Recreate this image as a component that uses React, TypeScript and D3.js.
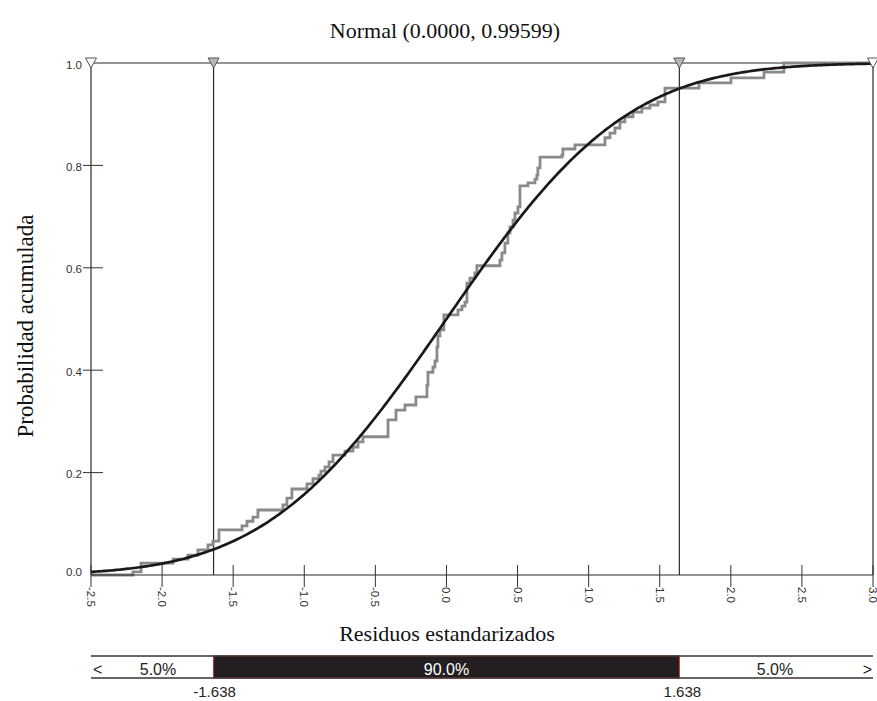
import React from "react";
import * as d3 from "d3";

const title = "Normal (0.0000, 0.99599)";
const xLabel = "Residuos estandarizados";
const yLabel = "Probabilidad acumulada";
const mu = 0.0;
const sigma = 0.99599;
const xTicks = [-2.5, -2.0, -1.5, -1.0, -0.5, 0.0, 0.5, 1.0, 1.5, 2.0, 2.5, 3.0];
const yTicks = [0.0, 0.2, 0.4, 0.6, 0.8, 1.0];
const cutLow = -1.638;
const cutHigh = 1.638;
const bandLabels = ["5.0%", "90.0%", "5.0%"];

// empirical CDF: jump locations and level after each jump
const stepX = [-2.205, -2.148, -1.923, -1.818, -1.748, -1.677, -1.642, -1.6, -1.438, -1.403,
  -1.361, -1.326, -1.15, -1.122, -1.087, -0.981, -0.939, -0.897, -0.883, -0.854,
  -0.826, -0.798, -0.714, -0.658, -0.622, -0.587, -0.411, -0.355, -0.292, -0.215,
  -0.137, -0.13, -0.095, -0.081, -0.067, -0.06, -0.046, -0.018, 0.081, 0.109,
  0.13, 0.144, 0.165, 0.2, 0.214, 0.376, 0.39, 0.411, 0.432, 0.447,
  0.468, 0.482, 0.503, 0.517, 0.573, 0.622, 0.636, 0.643, 0.658, 0.812,
  0.819, 0.904, 1.115, 1.15, 1.185, 1.22, 1.255, 1.312, 1.375, 1.431,
  1.487, 1.537, 1.776, 2.001, 2.233, 2.373];
const stepP = [0.006, 0.023, 0.031, 0.039, 0.049, 0.059, 0.066, 0.088, 0.096, 0.105,
  0.113, 0.127, 0.137, 0.15, 0.168, 0.178, 0.188, 0.195, 0.203, 0.211,
  0.221, 0.234, 0.242, 0.25, 0.26, 0.27, 0.303, 0.322, 0.332, 0.348,
  0.371, 0.396, 0.406, 0.418, 0.445, 0.467, 0.479, 0.508, 0.518, 0.525,
  0.533, 0.57, 0.58, 0.59, 0.604, 0.615, 0.629, 0.648, 0.668, 0.68,
  0.693, 0.707, 0.719, 0.76, 0.766, 0.773, 0.781, 0.795, 0.816, 0.82,
  0.832, 0.84, 0.854, 0.863, 0.873, 0.885, 0.895, 0.904, 0.912, 0.918,
  0.924, 0.951, 0.961, 0.971, 0.982, 1.0];

function erf(x: number) {
  const s = x < 0 ? -1 : 1;
  x = Math.abs(x);
  const t = 1 / (1 + 0.3275911 * x);
  const y = 1 - (((((1.061405429 * t - 1.453152027) * t) + 1.421413741) * t - 0.284496736) * t + 0.254829592) * t * Math.exp(-x * x);
  return s * y;
}
const normCdf = (x: number) => 0.5 * (1 + erf((x - mu) / (sigma * Math.SQRT2)));

const SANS = "'Liberation Sans', Arial, sans-serif";
const SERIF = "'Liberation Serif', 'Times New Roman', serif";

export default function App() {
  const x = d3.scaleLinear().domain([-2.5, 3.0]).range([91, 873]);
  const y = d3.scaleLinear().domain([0, 1]).range([575, 63]);
  const [x0, x1] = x.range();
  const [yb, yt] = y.range();

  const ecdfPts: [number, number][] = [[-2.5, 0], ...stepX.map((v, i) => [v, stepP[i]] as [number, number]), [3.0, 1.0]];
  const stepLine = d3.line<[number, number]>().x(d => x(d[0])).y(d => y(d[1])).curve(d3.curveStepAfter);
  const curvePts = d3.range(0, 401).map(i => {
    const v = -2.5 + (5.5 * i) / 400;
    return [v, normCdf(v)] as [number, number];
  });
  const curveLine = d3.line<[number, number]>().x(d => x(d[0])).y(d => y(d[1]));

  const verticals = [
    { v: -2.5, fill: "#ffffff" },
    { v: cutLow, fill: "#b8b8b8" },
    { v: cutHigh, fill: "#b8b8b8" },
    { v: 3.0, fill: "#ffffff" },
  ];

  const barTop = 656;
  const barBot = 678;

  return (
    <svg width={877} height={701} style={{ position: "absolute", left: 0, top: 0, display: "block", background: "#fff" }}>
      <text x={445} y={38} textAnchor="middle" fontFamily={SERIF} fontSize={22} fill="#111">{title}</text>

      {/* vertical reference lines */}
      {verticals.map((d, i) => (
        <line key={"v" + i} x1={x(d.v)} x2={x(d.v)} y1={yt} y2={yb} stroke="#2a2a2a" strokeWidth={1.2} />
      ))}
      <line x1={x0} x2={x1} y1={yt} y2={yt} stroke="#2a2a2a" strokeWidth={1.2} />

      {/* ECDF */}
      <path d={stepLine(ecdfPts) || ""} fill="none" stroke="#8a8a8a" strokeWidth={2.8} />
      {/* normal CDF */}
      <path d={curveLine(curvePts) || ""} fill="none" stroke="#1c1718" strokeWidth={2.7} />

      {/* x axis */}
      <line x1={x0} x2={x1} y1={yb} y2={yb} stroke="#2a2a2a" strokeWidth={1.2} />
      {xTicks.map((t, i) => (
        <g key={"xt" + i}>
          <line x1={x(t)} x2={x(t)} y1={yb - 10} y2={yb + 12} stroke="#333" strokeWidth={1} />
          <text transform={`translate(${x(t)},${yb + 12}) rotate(90)`} textAnchor="start" dominantBaseline="central" fontFamily={SANS} fontSize={11.5} fill="#333">{t.toFixed(1)}</text>
        </g>
      ))}
      {/* y axis ticks */}
      {yTicks.map((t, i) => (
        <g key={"yt" + i}>
          {t > 0 && t < 1 && <line x1={x0 - 8} x2={x0 + 12} y1={y(t)} y2={y(t)} stroke="#333" strokeWidth={1} />}
          <text x={x0 - 9} y={y(t) + (t === 0 ? -3 : 1.5)} textAnchor="end" dominantBaseline="central" fontFamily={SANS} fontSize={11.5} fill="#333">{t.toFixed(1)}</text>
        </g>
      ))}

      {/* triangles */}
      {verticals.map((d, i) => {
        const cx = x(d.v);
        return <path key={"tr" + i} d={`M${cx - 5.5},${yt - 5} L${cx + 5.5},${yt - 5} L${cx},${yt + 5} Z`} fill={d.fill} stroke="#555" strokeWidth={1} />;
      })}

      <text transform={`translate(25,326) rotate(-90)`} textAnchor="middle" dominantBaseline="central" fontFamily={SERIF} fontSize={23} fill="#111">{yLabel}</text>
      <text x={447} y={641} textAnchor="middle" fontFamily={SERIF} fontSize={22} fill="#111">{xLabel}</text>

      {/* bottom probability bar */}
      <rect x={x(cutLow)} y={barTop} width={x(cutHigh) - x(cutLow)} height={barBot - barTop} fill="#231f20" stroke="#d42a2a" strokeWidth={1} />
      <line x1={x0} x2={x1} y1={barTop} y2={barTop} stroke="#333" strokeWidth={1.5} />
      <line x1={x0} x2={x1} y1={barBot} y2={barBot} stroke="#333" strokeWidth={1.5} />
      <text x={x0 + 2} y={675} fontFamily={SANS} fontSize={16} fill="#222">{"<"}</text>
      <text x={x1 - 1} y={675} textAnchor="end" fontFamily={SANS} fontSize={16} fill="#222">{">"}</text>
      <text x={158} y={675} textAnchor="middle" fontFamily={SANS} fontSize={16} fill="#222">{bandLabels[0]}</text>
      <text x={(x(cutLow) + x(cutHigh)) / 2} y={675} textAnchor="middle" fontFamily={SANS} fontSize={16} fill="#fff">{bandLabels[1]}</text>
      <text x={775} y={675} textAnchor="middle" fontFamily={SANS} fontSize={16} fill="#222">{bandLabels[2]}</text>
      <text x={x(cutLow) + 1} y={697} textAnchor="middle" fontFamily={SANS} fontSize={15} fill="#222">{cutLow.toFixed(3)}</text>
      <text x={x(cutHigh) + 3} y={697} textAnchor="middle" fontFamily={SANS} fontSize={15} fill="#222">{cutHigh.toFixed(3)}</text>
    </svg>
  );
}
